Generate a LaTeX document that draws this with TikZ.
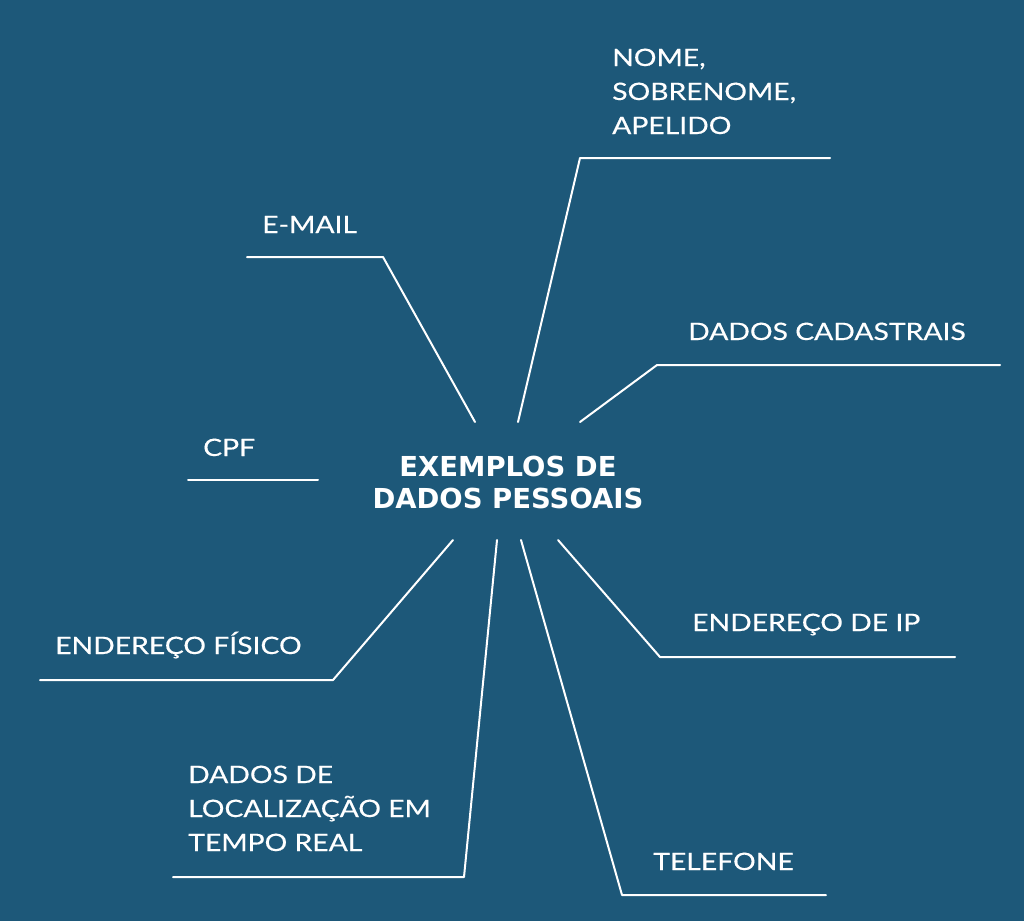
\documentclass[tikz,border=0pt]{standalone}
\usepackage{fontspec}
\setmainfont{Lato}[FakeStretch=1.18,FakeBold=0.4]
\newfontfamily\centerfont{DejaVu Sans}
\definecolor{bg}{HTML}{1D5879}
\begin{document}
\begin{tikzpicture}[x=1pt,y=-1pt,
  lbl/.style={text=white,font=\fontsize{24}{34}\selectfont,anchor=base west,align=left,inner sep=0pt},
  conn/.style={draw=white,line width=2pt,line join=round,line cap=round}]
\fill[bg] (0,0) rectangle (1024,921);
\useasboundingbox (0,0) rectangle (1024,921);
\node[text=white,font=\centerfont\bfseries\fontsize{27.5}{32}\selectfont,align=center,inner sep=0pt] (center) at (508,482) {EXEMPLOS DE\\DADOS PESSOAIS};
% label nodes
\node[lbl] (nome) at (612,134) {NOME,\\SOBRENOME,\\APELIDO};
\node[lbl] (email) at (262,233) {E-MAIL};
\node[lbl] (cad) at (688,340) {DADOS CADASTRAIS};
\node[lbl] (cpf) at (203,456) {CPF};
\node[lbl] (fis) at (55,654) {ENDEREÇO FÍSICO};
\node[lbl] (loc) at (188,851) {DADOS DE\\LOCALIZAÇÃO EM\\TEMPO REAL};
\node[lbl] (tel) at (653,870) {TELEFONE};
\node[lbl] (ip) at (692,631) {ENDEREÇO DE IP};
% coordinates
\coordinate (s1) at (518,422); \coordinate (k1) at (580,158); \coordinate (e1) at (830,158);
\coordinate (s2) at (475,422); \coordinate (k2) at (383,257); \coordinate (e2) at (247,257);
\coordinate (s3) at (580,422); \coordinate (k3) at (657,365); \coordinate (e3) at (1000,365);
\coordinate (k4) at (188,480); \coordinate (e4) at (318,480);
\coordinate (s5) at (453,540); \coordinate (k5) at (333,680); \coordinate (e5) at (40,680);
\coordinate (s6) at (497,540); \coordinate (k6) at (464,877); \coordinate (e6) at (173,877);
\coordinate (s7) at (521,540); \coordinate (k7) at (622,895); \coordinate (e7) at (826,895);
\coordinate (s8) at (558,540); \coordinate (k8) at (660,657); \coordinate (e8) at (955,657);
\draw[conn] (s1) -- (k1) -- (e1);
\draw[conn] (s2) -- (k2) -- (e2);
\draw[conn] (s3) -- (k3) -- (e3);
\draw[conn] (k4) -- (e4);
\draw[conn] (s5) -- (k5) -- (e5);
\draw[conn] (s6) -- (k6) -- (e6);
\draw[conn] (s7) -- (k7) -- (e7);
\draw[conn] (s8) -- (k8) -- (e8);
\end{tikzpicture}
\end{document}
